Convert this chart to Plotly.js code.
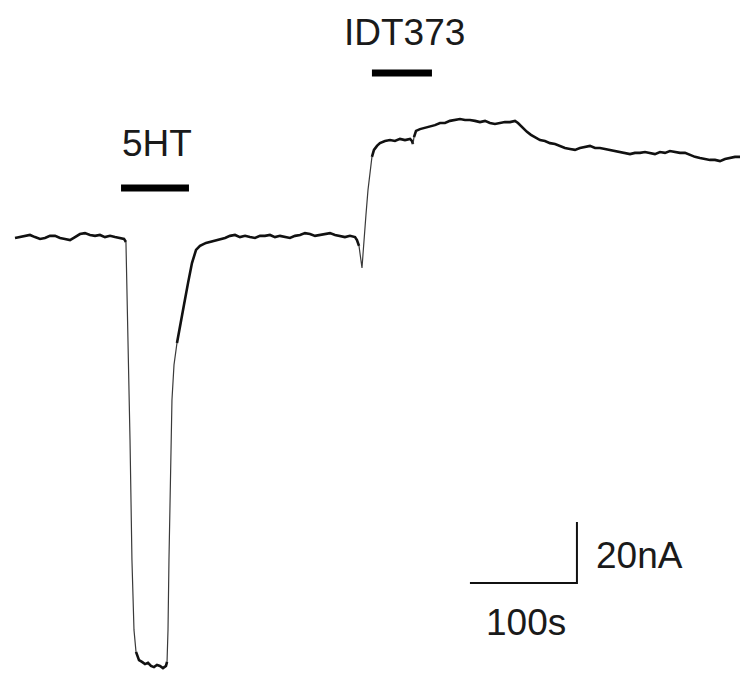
<!DOCTYPE html>
<html>
<head>
<meta charset="utf-8">
<script src="https://cdn.plot.ly/plotly-3.0.1.min.js"></script>
<style>html,body{margin:0;padding:0;background:#fff;}#chart{width:740px;height:675px;}</style>
</head>
<body>
<div id="chart"></div>
<script>
// Recording time (s) and membrane current (nA)
const timeSec = [
  0,4.7,9.3,14.0,18.7,23.4,28.0,32.7,37.4,42.1,46.7,51.4,56.1,60.7,65.4,70.1,74.8,79.4,84.1,88.8,93.5,98.1,101.9,103.7,
  105.6,107.5,109.3,111.2,113.1,115.9,
  118.7,121.5,124.3,127.1,129.9,132.7,135.5,138.3,141.1,142.1,
  143.0,143.9,144.9,145.8,146.7,148.6,151.4,154.2,157.9,161.7,165.4,169.2,172.9,178.5,185.0,191.6,
  196.3,200.9,205.6,210.3,215.0,219.6,224.3,229.0,233.6,238.3,243.0,247.7,252.3,257.0,261.7,266.4,271.0,275.7,280.4,285.0,289.7,294.4,299.1,303.7,308.4,313.1,317.8,
  319.6,321.5,322.4,323.4,324.3,325.2,326.2,328.0,329.9,331.8,333.6,335.5,338.3,341.1,
  345.8,350.5,355.1,359.8,364.5,369.2,371.0,372.0,372.9,374.8,378.5,383.2,387.9,392.5,397.2,401.9,406.5,411.2,415.9,420.6,425.2,429.9,434.6,439.3,443.9,448.6,453.3,457.9,462.6,467.3,470.1,
  473.8,478.5,482.2,486.0,490.7,495.3,500.0,504.7,509.3,514.0,518.7,523.4,528.0,532.7,537.4,542.1,546.7,551.4,556.1,560.7,565.4,570.1,574.8,579.4,584.1,588.8,593.5,598.1,602.8,607.5,612.1,616.8,621.5,626.2,630.8,635.5,640.2,644.9,649.5,654.2,658.9,663.6,668.2,672.9,677.6
];
const currentNA = [
  0,0.3,0.7,1.0,0.3,-0.3,0,0.7,0.7,0,-0.3,-0.7,0.3,1.3,1.6,1.0,0.7,1.0,0.3,0.7,0.3,0,-0.3,-1.3,
  -28.9,-66.2,-105.6,-128.5,-135.7,-138.4,
  -139.0,-139.7,-139.3,-140.3,-140.7,-140.0,-140.3,-141.0,-140.3,-139.0,
  -128.5,-105.6,-85.9,-66.2,-53.1,-41.6,-34.4,-29.5,-22.0,-14.8,-8.2,-3.9,-2.6,-1.6,-1.0,-0.3,
  0,0.7,1.0,0.3,0.7,0.3,0,0.7,0.7,1.0,0.3,0.7,0.3,0,0.7,1.0,1.6,1.3,0.7,1.0,1.3,1.6,1.0,0.7,0.3,0.7,0.3,
  -0.7,-2.6,-4.6,-7.2,-9.8,-5.6,0,7.5,15.7,22.3,26.6,28.9,30.2,31.1,
  31.8,32.1,31.8,32.5,32.1,32.5,31.8,30.8,33.1,35.1,35.7,36.1,36.7,37.0,37.7,37.7,38.4,38.7,39.0,38.7,38.7,38.4,38.0,38.4,37.7,37.4,37.7,38.0,38.0,38.4,37.7,
  36.4,34.8,33.8,33.1,32.1,31.8,31.1,30.8,30.2,29.5,29.2,28.9,29.5,29.8,30.2,29.5,29.5,29.2,28.9,28.5,28.2,27.9,27.5,27.9,27.9,28.2,27.9,27.5,28.2,27.9,28.5,28.2,27.9,27.9,27.2,26.6,26.2,25.9,25.6,25.6,25.2,25.9,26.2,26.6,26.6
];
// Drug application periods (s)
const drugNames = ["5HT", "IDT373"];
const drugStart = [99.1, 333.6];
const drugEnd = [162.6, 389.7];
// Scale bar sizes
const scaleTimeSec = 100;
const scaleCurrentNA = 20;
const scaleTimeLabel = "100s";
const scaleCurrentLabel = "20nA";

// Split trace into flat (thick) and steep (thin) runs
const traces = [];
function pushRun(xs, ys, steep) {
  traces.push({
    x: xs, y: ys, type: "scatter", mode: "lines", hoverinfo: "skip", showlegend: false,
    line: steep ? {color: "#3a3a3a", width: 1.2} : {color: "#111", width: 2.6, shape: "linear"}
  });
}
let runX = [timeSec[0]], runY = [currentNA[0]], runSteep = null;
for (let i = 0; i < timeSec.length - 1; i++) {
  const slope = Math.abs((currentNA[i+1] - currentNA[i]) / (timeSec[i+1] - timeSec[i]));
  const steep = slope > 2.2;
  if (runSteep === null) runSteep = steep;
  if (steep !== runSteep) {
    pushRun(runX, runY, runSteep);
    runX = [timeSec[i]]; runY = [currentNA[i]]; runSteep = steep;
  }
  runX.push(timeSec[i+1]); runY.push(currentNA[i+1]);
}
pushRun(runX, runY, runSteep);

const fontSpec = {family: "Liberation Sans, Arial, sans-serif", size: 37, color: "#1a1a1a"};

// Drug bars
const barLevel = [16.4, 54.1];
const labelLevel = [31.0, 67.4];
const annotations = [];
for (let k = 0; k < drugNames.length; k++) {
  traces.push({
    x: [drugStart[k], drugEnd[k]], y: [barLevel[k], barLevel[k]],
    type: "scatter", mode: "lines", hoverinfo: "skip", showlegend: false,
    line: {color: "#000", width: 7}
  });
  annotations.push({
    x: (drugStart[k] + drugEnd[k]) / 2 + 2, y: labelLevel[k], xref: "x", yref: "y",
    text: drugNames[k], showarrow: false, xanchor: "center", yanchor: "middle",
    font: fontSpec
  });
}

// Scale bar
const sbX0 = 425.2, sbY0 = -113.1;
traces.push({
  x: [sbX0, sbX0 + scaleTimeSec, sbX0 + scaleTimeSec],
  y: [sbY0, sbY0, sbY0 + scaleCurrentNA],
  type: "scatter", mode: "lines", hoverinfo: "skip", showlegend: false,
  line: {color: "#111", width: 2}
});
annotations.push({
  x: sbX0 + scaleTimeSec / 2 + 2, y: sbY0 - 13, xref: "x", yref: "y",
  text: scaleTimeLabel, showarrow: false, xanchor: "center", yanchor: "middle",
  font: fontSpec
});
annotations.push({
  x: sbX0 + scaleTimeSec + 16, y: sbY0 + 9, xref: "x", yref: "y",
  text: scaleCurrentLabel, showarrow: false, xanchor: "left", yanchor: "middle",
  font: fontSpec
});

const layout = {
  width: 740, height: 675,
  margin: {l: 0, r: 0, t: 0, b: 0},
  paper_bgcolor: "#fff", plot_bgcolor: "#fff",
  xaxis: {range: [-14.02, 677.6], visible: false, fixedrange: true},
  yaxis: {range: [-143.28, 78.03], visible: false, fixedrange: true},
  annotations: annotations,
  showlegend: false
};
Plotly.newPlot("chart", traces, layout, {displayModeBar: false, staticPlot: true});
</script>
</body>
</html>
